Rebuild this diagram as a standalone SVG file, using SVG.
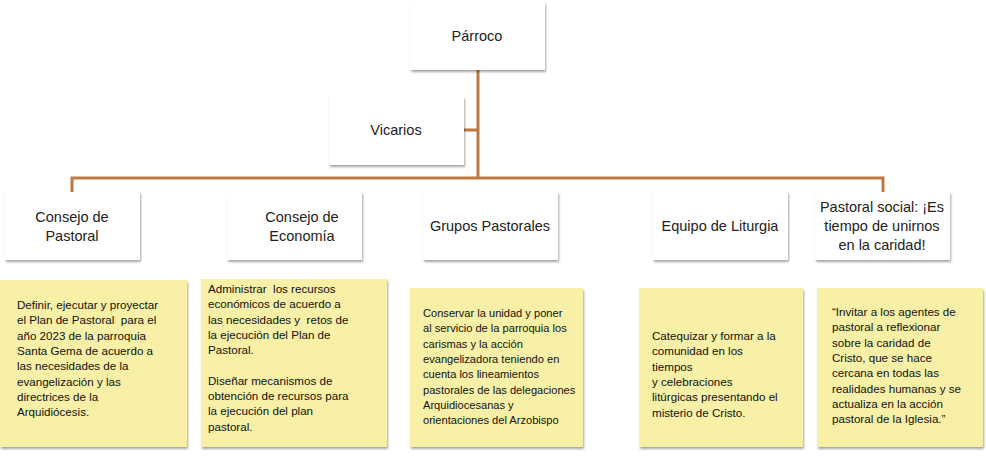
<svg xmlns="http://www.w3.org/2000/svg" width="986" height="459" viewBox="0 0 986 459">
<defs>
<filter id="sh" x="-10%" y="-10%" width="125%" height="130%"><feDropShadow dx="1" dy="2" stdDeviation="1.2" flood-color="#000" flood-opacity="0.35"/></filter>
<style>
.w{fill:#fff;filter:url(#sh)}
.y{fill:#f7f0a6;filter:url(#sh)}
.h{font-family:"Liberation Sans",Arial,sans-serif;font-size:14.5px;fill:#222;text-anchor:middle}
.b{font-family:"Liberation Sans",Arial,sans-serif;font-size:11.6px;fill:#111;white-space:pre}
.s{font-size:11.1px}
.c{stroke:#c07840;stroke-width:3;fill:none}
</style>
</defs>
<rect width="986" height="459" fill="#fff"/>
<g id="connectors">
<path class="c" d="M478 70V178M464 130H478M72 192V178H883V192"/>
</g>
<g id="parroco"><rect class="w" x="410" y="2" width="135" height="68"/><text class="h" x="477" y="41">Párroco</text></g>
<g id="vicarios"><rect class="w" x="329" y="97" width="135" height="68"/><text class="h" x="396" y="135">Vicarios</text></g>
<g id="consejo-pastoral"><rect class="w" x="5" y="192" width="135" height="68"/><text class="h" x="72" y="222">Consejo de</text><text class="h" x="72" y="241">Pastoral</text></g>
<g id="consejo-economia"><rect class="w" x="227" y="192" width="135" height="68"/><text class="h" x="302" y="222">Consejo de</text><text class="h" x="302" y="241">Economía</text></g>
<g id="grupos"><rect class="w" x="423" y="192" width="135" height="68"/><text class="h" x="490" y="231">Grupos Pastorales</text></g>
<g id="liturgia"><rect class="w" x="653" y="192" width="135" height="68"/><text class="h" x="720" y="231">Equipo de Liturgia</text></g>
<g id="social"><rect class="w" x="815" y="192" width="135" height="68"/><text class="h" x="882" y="212">Pastoral social: ¡Es</text><text class="h" x="882" y="231">tiempo de unirnos</text><text class="h" x="882" y="250">en la caridad!</text></g>
<g id="desc-pastoral"><rect class="y" x="0" y="280" width="187" height="167"/>
<text class="b" x="17" y="309"><tspan x="17">Definir, ejecutar y proyectar</tspan><tspan x="17" dy="15.3">el Plan de Pastoral  para el</tspan><tspan x="17" dy="15.3">año 2023 de la parroquia</tspan><tspan x="17" dy="15.3">Santa Gema de acuerdo a</tspan><tspan x="17" dy="15.3">las necesidades de la</tspan><tspan x="17" dy="15.3">evangelización y las</tspan><tspan x="17" dy="15.3">directrices de la</tspan><tspan x="17" dy="15.3">Arquidiócesis.</tspan></text></g>
<g id="desc-economia"><rect class="y" x="201" y="279" width="186" height="168"/>
<text class="b" x="208" y="293"><tspan x="208">Administrar  los recursos</tspan><tspan x="208" dy="15.3">económicos de acuerdo a</tspan><tspan x="208" dy="15.3">las necesidades y  retos de</tspan><tspan x="208" dy="15.3">la ejecución del Plan de</tspan><tspan x="208" dy="15.3">Pastoral.</tspan><tspan x="208" dy="30.6">Diseñar mecanismos de</tspan><tspan x="208" dy="15.3">obtención de recursos para</tspan><tspan x="208" dy="15.3">la ejecución del plan</tspan><tspan x="208" dy="15.3">pastoral.</tspan></text></g>
<g id="desc-grupos"><rect class="y" x="410" y="288" width="173" height="159"/>
<text class="b s" x="423" y="317"><tspan x="423">Conservar la unidad y poner</tspan><tspan x="423" dy="15.3">al servicio de la parroquia los</tspan><tspan x="423" dy="15.3">carismas y la acción</tspan><tspan x="423" dy="15.3">evangelizadora teniendo en</tspan><tspan x="423" dy="15.3">cuenta los lineamientos</tspan><tspan x="423" dy="15.3">pastorales de las delegaciones</tspan><tspan x="423" dy="15.3">Arquidiocesanas y</tspan><tspan x="423" dy="15.3">orientaciones del Arzobispo</tspan></text></g>
<g id="desc-liturgia"><rect class="y" x="639" y="288" width="164" height="159"/>
<text class="b" x="652" y="340"><tspan x="652">Catequizar y formar a la</tspan><tspan x="652" dy="15.3">comunidad en los</tspan><tspan x="652" dy="15.3">tiempos</tspan><tspan x="652" dy="15.3">y celebraciones</tspan><tspan x="652" dy="15.3">litúrgicas presentando el</tspan><tspan x="652" dy="15.3">misterio de Cristo.</tspan></text></g>
<g id="desc-social"><rect class="y" x="817" y="288" width="166" height="159"/>
<text class="b" x="832" y="316"><tspan x="832">“Invitar a los agentes de</tspan><tspan x="832" dy="15.3">pastoral a reflexionar</tspan><tspan x="832" dy="15.3">sobre la caridad de</tspan><tspan x="832" dy="15.3">Cristo, que se hace</tspan><tspan x="832" dy="15.3">cercana en todas las</tspan><tspan x="832" dy="15.3">realidades humanas y se</tspan><tspan x="832" dy="15.3">actualiza en la acción</tspan><tspan x="832" dy="15.3">pastoral de la Iglesia.”</tspan></text></g>
</svg>
